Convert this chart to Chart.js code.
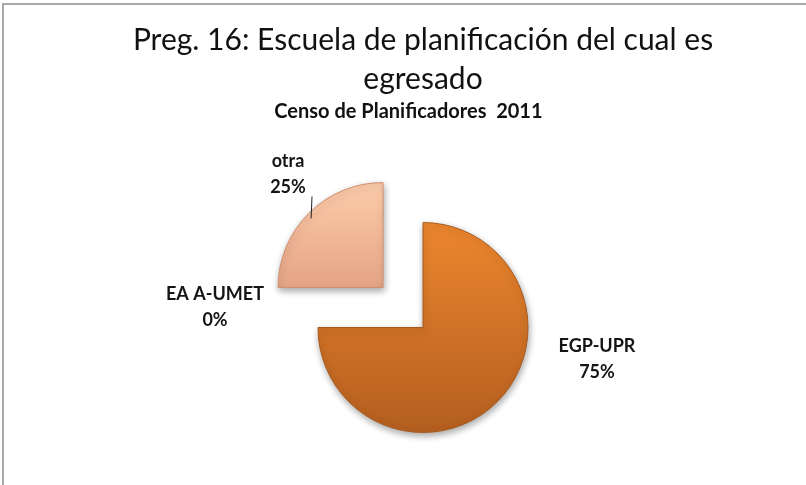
<!DOCTYPE html>
<html lang="es">
<head>
<meta charset="utf-8">
<title>Preg. 16: Escuela de planificación</title>
<script src="https://cdn.jsdelivr.net/npm/chart.js@4.4.1/dist/chart.umd.min.js"></script>
<style>
  html, body { margin: 0; padding: 0; background: #fff; }
  .marco { position: relative; width: 806px; height: 485px; overflow: hidden; }
  /* borde gris arriba e izquierda, como en la captura */
  .marco::before {
    content: ''; position: absolute; left: 2px; top: 3px; right: 0; bottom: 0;
    border-top: 2px solid #a9a9a9; border-left: 2px solid #a9a9a9;
    pointer-events: none;
  }
</style>
</head>
<body>
<div class="marco">
  <canvas id="chartEscuela" width="806" height="485"></canvas>
</div>
<script>
// === Datos ===
const categorias = ['EGP-UPR', 'EA A-UMET', 'otra'];
const valores = [75, 0, 25];
const titulo = ['Preg. 16: Escuela de planificación del cual es', 'egresado'];
const subtitulo = 'Censo de Planificadores  2011      ';

const RADIO = 105;

// posición de cada etiqueta respecto al centro del pastel (px)
const posEtiqueta = [[174, 24], [-208, -28], [-135, -161]];

// colores [arriba, abajo] y desplazamiento vertical del degradado
const coloresArriba = ['#ec862e', '#d9d9d9', '#fbcaa8'];
const coloresAbajo = ['#b35e1f', '#bbbbbb', '#e29e80'];
const despY = [0, 0, -42];

// degradado vertical por porción
function degradado(context) {
    const i = context.dataIndex;
    const area = context.chart.chartArea;
    if (!area || i === undefined) return coloresArriba[i || 0];
    const cy = (area.top + area.bottom) / 2 + despY[i];
    const r = i === 2 ? RADIO * 0.55 : RADIO;
    const g = context.chart.ctx.createLinearGradient(0, cy - r, 0, cy + r);
    g.addColorStop(0, coloresArriba[i]);
    g.addColorStop(1, coloresAbajo[i]);
    return g;
}

// sombra suave bajo las porciones
const sombra = {
    id: 'sombra',
    beforeDatasetsDraw(chart) {
        const ctx = chart.ctx;
        ctx.save();
        ctx.shadowColor = 'rgba(0,0,0,0.35)';
        ctx.shadowBlur = 7;
        ctx.shadowOffsetX = 1;
        ctx.shadowOffsetY = 3;
    },
    afterDatasetsDraw(chart) {
        chart.ctx.restore();
    }
};

// etiquetas "categoría / porcentaje"
const etiquetas = {
    id: 'etiquetas',
    afterDatasetsDraw(chart) {
        const ctx = chart.ctx;
        const arcs = chart.getDatasetMeta(0).data;
        const total = valores.reduce((a, b) => a + b, 0);
        ctx.save();
        ctx.font = 'bold 18px Lato';
        ctx.fillStyle = '#141414';
        ctx.textAlign = 'center';
        ctx.textBaseline = 'alphabetic';
        arcs.forEach((arc, i) => {
            const x = arc.x + posEtiqueta[i][0];
            const y = arc.y + posEtiqueta[i][1];
            ctx.fillText(categorias[i], x, y);
            ctx.fillText(Math.round(valores[i] / total * 100) + '%', x, y + 26);
        });
        // línea guía de "otra"
        const arc = arcs[2];
        const mid = (arc.startAngle + arc.endAngle) / 2;
        const off = (arc.options.offset || 0) / 4;
        const cx = arc.x + Math.cos(mid) * off;
        const cy = arc.y + Math.sin(mid) * off;
        const a = mid - 0.02;
        ctx.beginPath();
        ctx.moveTo(cx + Math.cos(a) * arc.outerRadius * 0.95, cy + Math.sin(a) * arc.outerRadius * 0.95);
        ctx.lineTo(arc.x + posEtiqueta[2][0] + 24, arc.y + posEtiqueta[2][1] + 30);
        ctx.strokeStyle = '#222';
        ctx.lineWidth = 1;
        ctx.stroke();
        ctx.restore();
    }
};

new Chart(document.getElementById('chartEscuela'), {
    type: 'pie',
    data: {
        labels: categorias,
        datasets: [{
            data: valores,
            backgroundColor: degradado,
            borderColor: ['#a85a1e', '#999', '#d0906f'],
            borderWidth: 1,
            offset: [0, 0, 226]
        }]
    },
    options: {
        responsive: false,
        animation: false,
        radius: RADIO,
        events: [],
        layout: { padding: { left: 40, right: 0, top: 0, bottom: 0 } },
        plugins: {
            legend: { display: false },
            tooltip: { enabled: false },
            title: {
                display: true,
                text: titulo,
                color: '#111',
                font: { family: 'Lato', size: 30, weight: 'normal', lineHeight: 1.3 },
                padding: { top: 21, bottom: 1 }
            },
            subtitle: {
                display: true,
                text: subtitulo,
                color: '#111',
                font: { family: 'Lato', size: 20, weight: 'bold', lineHeight: 1.2 },
                padding: { top: 0, bottom: 46 }
            }
        }
    },
    plugins: [sombra, etiquetas]
});
</script>
</body>
</html>
